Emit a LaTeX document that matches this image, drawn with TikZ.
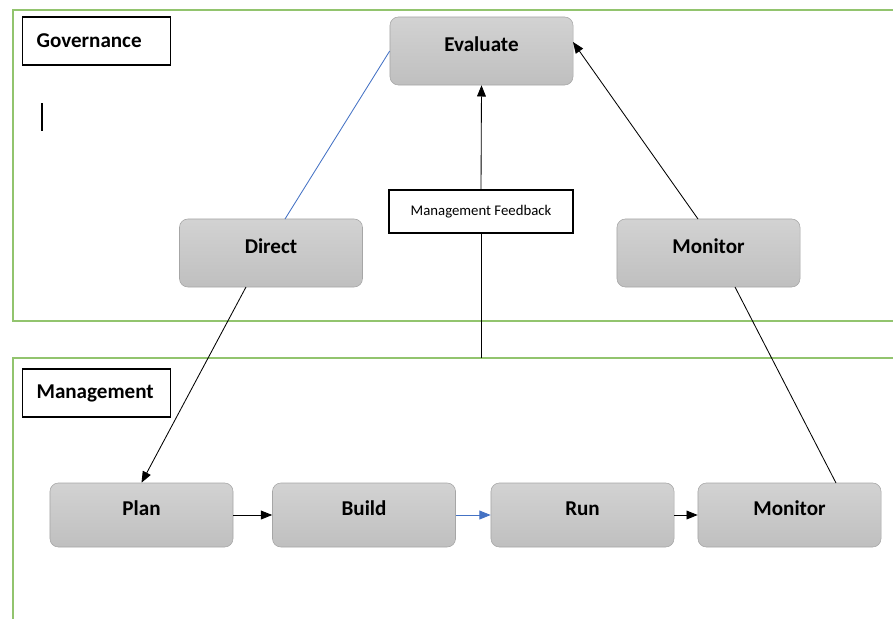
\documentclass[tikz,border=0pt]{standalone}
\usepackage{fontspec}
\setmainfont{Carlito}
\usetikzlibrary{arrows.meta}

\definecolor{zonegreen}{RGB}{146,196,110}
\definecolor{linkblue}{RGB}{68,114,196}

\begin{document}
\begin{tikzpicture}[x=0.025cm,y=-0.025cm]
\tikzset{etape/.style={draw=gray!70, rounded corners=6pt, top color=gray!35, bottom color=gray!50,
    minimum width=4.575cm, minimum height=1.7cm, text height=0.3cm, text depth=0.3cm,
    font=\fontsize{15}{17}\selectfont\bfseries},
  etapebas/.style={etape, minimum height=1.6cm},
  zone/.style={draw=zonegreen, line width=1.1pt},
  titre/.style={draw, line width=0.8pt, anchor=west, minimum width=3.7cm, minimum height=1.2cm,
    inner xsep=0.35cm, text width=3.0cm, align=left, font=\fontsize{15}{17}\selectfont\bfseries},
  fleche/.style={-{Triangle[length=0.28cm,width=0.22cm]}, line width=0.6pt}}
\useasboundingbox (0,0) rectangle (893,619);
% zones
\draw[zone] (893,10) -- (13,10) -- (13,321) -- (893,321);
\draw[zone] (893,358) -- (13,358) -- (13,619);
\node[titre] (G) at (22,41) {Governance};
\node[titre] (M) at (22,393) {Management};
\draw[line width=0.8pt] (42,103) -- (42,131);
% governance
\node[etape] (E) at (481.5,51) {Evaluate};
\node[etape] (D) at (271,253) {Direct};
\node[etape] (Mo1) at (708.5,253) {Monitor};
\node[draw, line width=0.8pt, fill=white, minimum width=4.6cm, minimum height=1.075cm,
  font=\fontsize{10.5}{12}\selectfont] (F) at (481,211.5) {Management Feedback};
% management
\node[etapebas] (P) at (141.5,515) {Plan};
\node[etapebas] (B) at (364,515) {Build};
\node[etapebas] (R) at (582.5,515) {Run};
\node[etapebas] (Mo2) at (789.5,515) {Monitor};
\coordinate (Fb) at (481,358);
\draw[linkblue, line width=0.6pt] (E.west) -- (285,219);
\draw[fleche] (246,287) -- (P.north);
\draw[fleche] (P) -- (B);
\draw[fleche, linkblue] (B) -- (R);
\draw[fleche] (R) -- (Mo2);
\draw[line width=0.6pt] (836,483) -- (735,287);
\draw[fleche] (698,219) -- (573,42);
\draw[line width=0.6pt] (Fb) -- (F.south);
\draw[fleche] (F.north) -- (E.south);
\end{tikzpicture}
\end{document}
